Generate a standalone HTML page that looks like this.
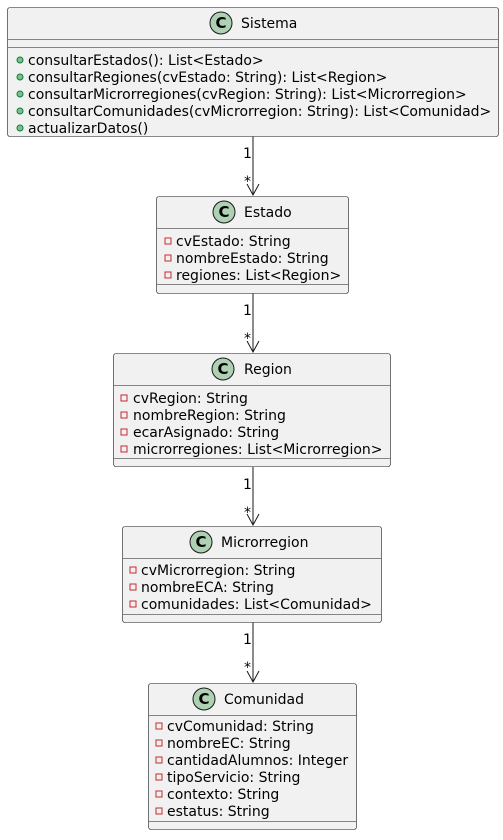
<!DOCTYPE html>
<html><head><meta charset="utf-8"><style>
html,body{margin:0;padding:0;background:#fff}
text{font-family:"DejaVu Sans","Liberation Sans",sans-serif;font-size:14px;fill:#000}
.t{text-anchor:middle}
</style></head><body>
<svg width="503" height="835" xmlns="http://www.w3.org/2000/svg">
<defs>
<g id="c"><circle r="11" fill="#ADD1B2" stroke="#181818" stroke-width="1"/><text x="0" y="5" style="font-size:15px;font-weight:bold;text-anchor:middle;fill:#000">C</text></g>
<g id="pub"><circle r="3" fill="#84BE84" stroke="#038048" stroke-width="1"/></g>
<g id="priv"><rect x="-3" y="-3" width="6" height="6" fill="none" stroke="#C82930" stroke-width="1"/></g>
</defs>
<g stroke="#181818" stroke-width="1" fill="none">
<line x1="253" y1="136" x2="253" y2="194"/><polyline points="247,184 253,195 259,184"/>
<line x1="253" y1="293" x2="253" y2="351"/><polyline points="247,341 253,352 259,341"/>
<line x1="253" y1="467" x2="253" y2="524"/><polyline points="247,514 253,525 259,514"/>
<line x1="253" y1="622" x2="253" y2="681"/><polyline points="247,671 253,682 259,671"/>
</g>
<g>
<text x="243" y="158">1</text><text x="244" y="186">*</text>
<text x="243" y="315">1</text><text x="244" y="343">*</text>
<text x="243" y="489">1</text><text x="244" y="517">*</text>
<text x="243" y="644">1</text><text x="244" y="672">*</text>
</g>
<g stroke="#181818" stroke-width="0.6" fill="#F1F1F1">
<rect x="7.5" y="7.5" width="491" height="129" rx="2.5"/>
<rect x="156.5" y="196.5" width="192" height="97" rx="2.5"/>
<rect x="113.5" y="353.5" width="277" height="113" rx="2.5"/>
<rect x="122.5" y="526.5" width="259" height="96" rx="2.5"/>
<rect x="148.5" y="683.5" width="208" height="146" rx="2.5"/>
<line x1="8" y1="39.5" x2="498" y2="39.5"/><line x1="8" y1="47.5" x2="498" y2="47.5"/>
<line x1="157" y1="228.5" x2="348" y2="228.5"/><line x1="157" y1="284.5" x2="348" y2="284.5"/>
<line x1="114" y1="385.5" x2="390" y2="385.5"/><line x1="114" y1="458.5" x2="390" y2="458.5"/>
<line x1="123" y1="558.5" x2="381" y2="558.5"/><line x1="123" y1="614.5" x2="381" y2="614.5"/>
<line x1="149" y1="715.5" x2="356" y2="715.5"/><line x1="149" y1="821.5" x2="356" y2="821.5"/>
</g>
<use href="#c" x="221" y="23"/><text x="241" y="28">Sistema</text>
<use href="#pub" x="20" y="60"/><text x="28" y="65">consultarEstados(): List&lt;Estado&gt;</text>
<use href="#pub" x="20" y="77"/><text x="28" y="82">consultarRegiones(cvEstado: String): List&lt;Region&gt;</text>
<use href="#pub" x="20" y="94"/><text x="28" y="99">consultarMicrorregiones(cvRegion: String): List&lt;Microrregion&gt;</text>
<use href="#pub" x="20" y="111"/><text x="28" y="116">consultarComunidades(cvMicrorregion: String): List&lt;Comunidad&gt;</text>
<use href="#pub" x="20" y="128"/><text x="28" y="133">actualizarDatos()</text>

<use href="#c" x="224" y="212"/><text x="244" y="217">Estado</text>
<use href="#priv" x="168" y="241"/><text x="176" y="246">cvEstado: String</text>
<use href="#priv" x="168" y="258"/><text x="176" y="263">nombreEstado: String</text>
<use href="#priv" x="168" y="275"/><text x="176" y="280">regiones: List&lt;Region&gt;</text>

<use href="#c" x="223" y="369"/><text x="244" y="374">Region</text>
<use href="#priv" x="124" y="398"/><text x="133" y="403">cvRegion: String</text>
<use href="#priv" x="124" y="415"/><text x="133" y="420">nombreRegion: String</text>
<use href="#priv" x="124" y="432"/><text x="133" y="437">ecarAsignado: String</text>
<use href="#priv" x="124" y="449"/><text x="133" y="454">microrregiones: List&lt;Microrregion&gt;</text>

<use href="#c" x="201" y="542"/><text x="221" y="547">Microrregion</text>
<use href="#priv" x="133" y="570"/><text x="141" y="575">cvMicrorregion: String</text>
<use href="#priv" x="133" y="587"/><text x="141" y="592">nombreECA: String</text>
<use href="#priv" x="133" y="604"/><text x="141" y="609">comunidades: List&lt;Comunidad&gt;</text>

<use href="#c" x="204" y="699"/><text x="224" y="704">Comunidad</text>
<use href="#priv" x="159" y="726"/><text x="167" y="731">cvComunidad: String</text>
<use href="#priv" x="159" y="743"/><text x="167" y="748">nombreEC: String</text>
<use href="#priv" x="159" y="760"/><text x="167" y="765">cantidadAlumnos: Integer</text>
<use href="#priv" x="159" y="777"/><text x="167" y="782">tipoServicio: String</text>
<use href="#priv" x="159" y="794"/><text x="167" y="799">contexto: String</text>
<use href="#priv" x="159" y="811"/><text x="167" y="816">estatus: String</text>
</svg>
</body></html>
